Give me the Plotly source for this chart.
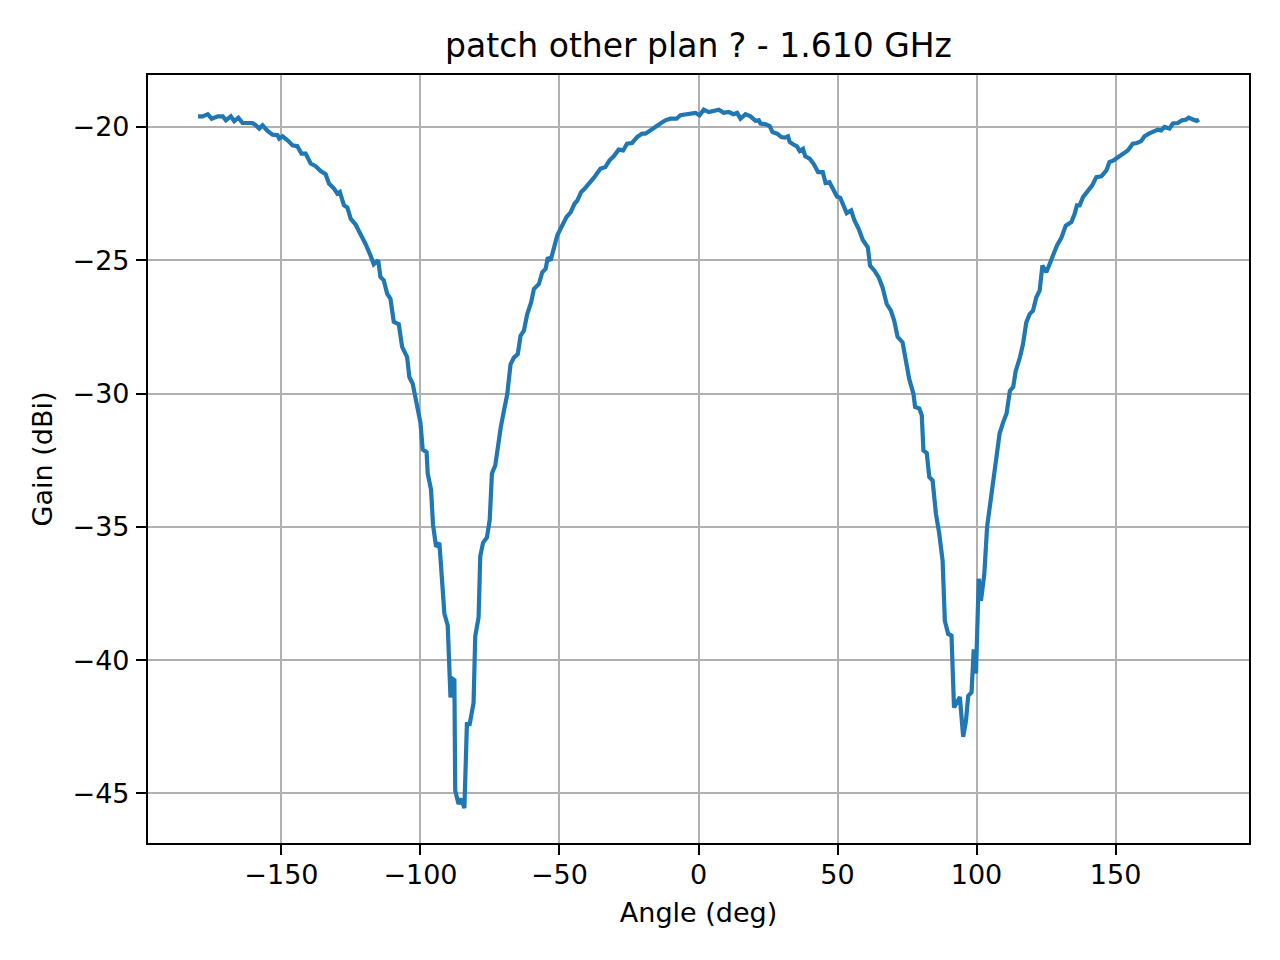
import plotly.graph_objects as go

# radiation pattern cut
angle_deg = [
    -180, -178.3, -176.5, -175.1, -172.9, -171.1, -170, -168.2, -167, -165.5,
    -164, -162.2, -160.4, -159.2, -158, -156.8, -155, -153.2, -151.4, -150.8,
    -149.6, -147.8, -146, -144.3, -142.8, -141.3, -139.5, -137.7, -135.9, -134.1,
    -132.9, -131.1, -129.9, -129, -127.5, -126.3, -125.1, -123.4, -121.6, -119.8,
    -118, -116.8, -115.2, -114.4, -113.2, -112, -110.8, -109.6, -107.8, -106.6,
    -104.8, -104, -102.8, -101.2, -100, -99.2, -97.8, -97.4, -96.2, -95.5,
    -94.4, -93.2, -92.2, -91.4, -90.2, -89.5, -89.2, -88.5, -87.8, -87.5,
    -86.3, -85.4, -84.2, -83.3, -82.3, -80.9, -80.3, -79.1, -78.5, -77.5,
    -76.1, -75.1, -74.3, -73.1, -72.3, -71.1, -69.9, -68.8, -67.6, -66.4,
    -65, -64, -62.8, -61.6, -60.2, -59.2, -57.4, -56.2, -55, -54.2,
    -53.2, -52, -50.8, -49.6, -48.4, -47.5, -46, -44.6, -43.6, -42.2,
    -41, -39.4, -37.6, -35.3, -33.5, -32, -30.5, -28.7, -27.1, -25.7,
    -23.9, -22.1, -20.3, -19.1, -17.3, -15.5, -13.7, -11.9, -10.1, -7.9,
    -6.5, -4.7, -2.9, -1.1, 0.4, 1.9, 3.7, 5.5, 7.3, 9.1,
    10.9, 12.5, 13.9, 15.1, 16.9, 18.7, 20.5, 21.7, 22.3, 24.2,
    25.6, 26.6, 28.3, 29.8, 31, 32.2, 32.8, 34, 35.4, 36.4,
    37.6, 38.4, 40, 41.4, 43, 44.7, 45.7, 47.1, 48.3, 49.8,
    51, 52.2, 53.3, 54.9, 56.1, 57.6, 59.1, 60.9, 61.7, 63.3,
    64.8, 66.2, 67.7, 69.2, 70.4, 71.6, 73.4, 74.6, 75.8, 77.3,
    77.9, 79.4, 80.3, 80.9, 82.1, 83, 84.2, 85.4, 86.6, 87.8,
    88.6, 89.8, 91, 91.9, 93.1, 94, 95.2, 96.2, 97, 98.2,
    99, 99.8, 100.8, 101.6, 102.8, 103.8, 105.4, 106.9, 108.3, 109.6,
    110.8, 112, 113.2, 114.1, 115.6, 116.7, 117.9, 119.1, 120.3, 121.5,
    122.7, 123.7, 125.1, 126.3, 127.5, 128.9, 130.5, 132.1, 134.1, 135.3,
    136.1, 137.1, 138.3, 140.1, 141.6, 143.1, 144.9, 146.7, 147.8, 149.3,
    150.8, 152.6, 154.4, 156.2, 157.7, 159.2, 160.4, 162, 163.4, 165.2,
    166.4, 167.6, 169.4, 170.6, 172.4, 173.9, 175.4, 176.3, 177.8, 179.2,
    180,
]
gain_dbi = [
    -19.6, -19.6, -19.52, -19.69, -19.6, -19.6, -19.75, -19.6, -19.78, -19.65,
    -19.85, -19.85, -19.85, -19.94, -20.06, -19.94, -20.15, -20.29, -20.31, -20.44,
    -20.35, -20.5, -20.69, -20.72, -21.0, -21.0, -21.37, -21.47, -21.65, -21.77,
    -22.12, -22.31, -22.5, -22.44, -22.94, -23.02, -23.44, -23.65, -23.98, -24.38,
    -24.81, -25.15, -25.0, -25.63, -25.75, -26.25, -26.44, -27.31, -27.4, -28.25,
    -28.63, -29.38, -29.63, -30.44, -31.1, -32.1, -32.2, -33.0, -33.6, -34.9,
    -35.75, -35.6, -37.0, -38.25, -38.7, -40.5, -41.4, -40.7, -40.75, -44.9,
    -45.4, -45.2, -45.55, -42.4, -42.4, -41.6, -39.1, -38.4, -36.1, -35.6,
    -35.4, -34.75, -33.0, -32.7, -32.1, -31.25, -30.6, -30.03, -28.9, -28.65,
    -28.52, -27.83, -27.64, -27.02, -26.58, -26.08, -25.89, -25.45, -25.33, -24.89,
    -25.01, -24.51, -24.07, -23.82, -23.51, -23.38, -23.2, -22.88, -22.76, -22.44,
    -22.32, -22.13, -21.9, -21.57, -21.5, -21.25, -21.1, -20.85, -20.88, -20.63,
    -20.6, -20.38, -20.25, -20.25, -20.1, -20.0, -19.87, -19.75, -19.69, -19.69,
    -19.56, -19.52, -19.52, -19.47, -19.56, -19.35, -19.44, -19.4, -19.35, -19.47,
    -19.44, -19.52, -19.47, -19.69, -19.52, -19.6, -19.77, -19.75, -19.87, -19.9,
    -19.97, -20.19, -20.25, -20.38, -20.4, -20.35, -20.56, -20.65, -20.73, -20.9,
    -20.82, -21.1, -21.19, -21.38, -21.69, -21.69, -22.1, -22.07, -22.28, -22.61,
    -22.66, -22.94, -23.23, -23.13, -23.51, -23.82, -24.24, -24.51, -25.2, -25.39,
    -25.64, -26.02, -26.64, -26.89, -27.27, -27.87, -28.08, -28.77, -29.46, -30.0,
    -30.5, -30.56, -30.81, -32.13, -32.23, -33.13, -33.26, -34.51, -35.26, -36.27,
    -38.52, -39.02, -39.08, -41.78, -41.53, -41.38, -42.88, -42.28, -41.34, -41.21,
    -39.6, -40.5, -36.95, -37.77, -36.77, -35.0, -33.76, -32.5, -31.5, -31.07,
    -30.75, -29.9, -29.75, -29.15, -28.65, -28.15, -27.33, -27.02, -26.89, -26.39,
    -26.14, -25.2, -25.45, -25.14, -24.82, -24.45, -24.16, -23.7, -23.57, -23.26,
    -22.94, -22.94, -22.63, -22.38, -22.19, -21.88, -21.85, -21.63, -21.32, -21.25,
    -21.13, -20.98, -20.88, -20.63, -20.6, -20.53, -20.35, -20.25, -20.19, -20.1,
    -20.13, -20.0, -20.06, -19.87, -19.85, -19.75, -19.72, -19.65, -19.72, -19.77,
    -19.72,
]

title_text = "patch other plan ? - 1.610 GHz"
x_label = "Angle (deg)"
y_label = "Gain (dBi)"

font_family = "DejaVu Sans"

fig = go.Figure()
fig.add_trace(go.Scatter(
    x=angle_deg, y=gain_dbi, mode="lines",
    line=dict(color="#1f77b4", width=4.2),
    showlegend=False,
))

axis_style = dict(
    showline=True, mirror=True, linecolor="black", linewidth=2.2,
    showgrid=True, gridcolor="#b0b0b0", gridwidth=2.2,
    zeroline=False,
    ticks="outside", ticklen=10, tickwidth=2.2, tickcolor="black",
    tickfont=dict(family=font_family, size=27, color="black"),
)

# the page sits about 7 px down/right in the browser, margins make up for it
fig.update_layout(
    width=1280, height=960,
    paper_bgcolor="white", plot_bgcolor="white",
    margin=dict(l=140, r=39, t=67, b=125),
    font=dict(family=font_family, color="black"),
    title=dict(
        text=title_text, x=0.5, xref="paper", xanchor="center",
        y=1 - 37 / 960, yref="container", yanchor="middle",
        font=dict(family=font_family, size=33, color="black"),
    ),
)

fig.update_xaxes(
    **axis_style,
    range=[-198, 198],
    tickvals=[-150, -100, -50, 0, 50, 100, 150],
    ticktext=["\u2212150", "\u2212100", "\u221250", "0", "50", "100", "150"],
    ticklabelstandoff=-4,
    title=dict(text=x_label, font=dict(family=font_family, size=27), standoff=15),
)
fig.update_yaxes(
    **axis_style,
    range=[-46.86, -18.05],
    tickvals=[-45, -40, -35, -30, -25, -20],
    ticktext=["\u221245", "\u221240", "\u221235", "\u221230", "\u221225", "\u221220"],
    ticklabelstandoff=1,
    title=dict(text=y_label, font=dict(family=font_family, size=27), standoff=12),
)

fig.write_html("out.html")
